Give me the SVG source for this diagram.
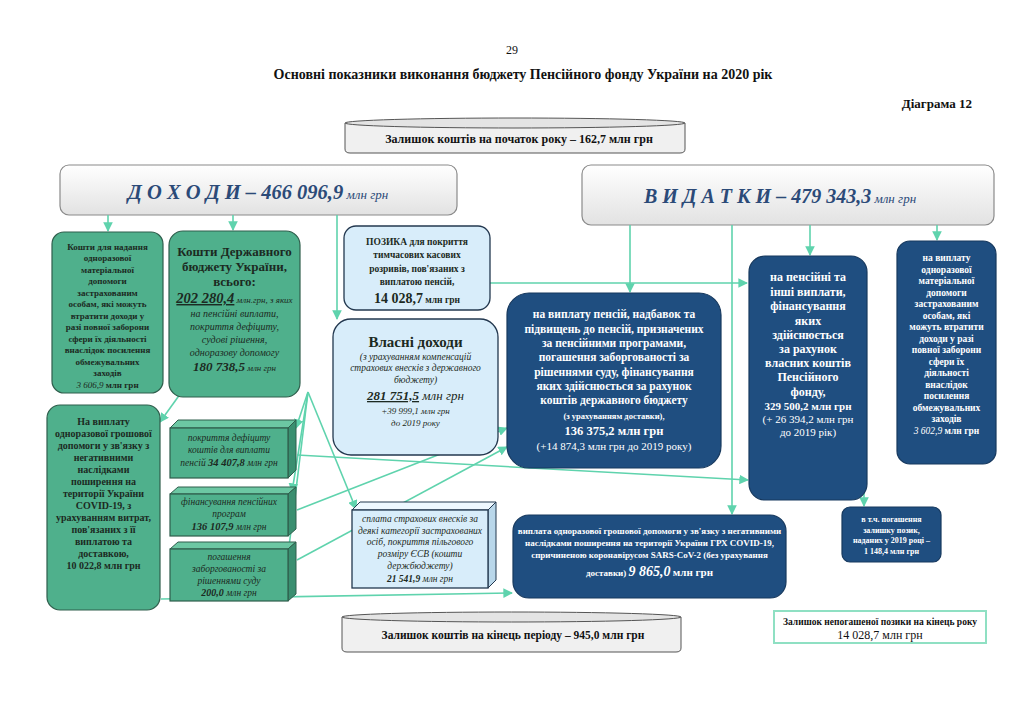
<svg xmlns="http://www.w3.org/2000/svg" width="1024" height="703" viewBox="0 0 1024 703">
<defs>
<linearGradient id="gray" x1="0" y1="0" x2="0" y2="1"><stop offset="0" stop-color="#ffffff"/><stop offset="1" stop-color="#e2e2e2"/></linearGradient>
<marker id="ar" viewBox="0 0 10 10" refX="9" refY="5" markerWidth="6" markerHeight="6" orient="auto"><path d="M0,0 L10,5 L0,10 z" fill="#5fd3ad"/></marker>
<style>
text{font-family:"Liberation Serif","Times New Roman",serif;text-anchor:middle}
.g{fill:#4fb08c;stroke:#2f5e4c;stroke-width:1.2}
.gt{fill:#6cc7a3;stroke:#2f5e4c;stroke-width:1}
.gs{fill:#3a8f70;stroke:#2f5e4c;stroke-width:1}
.lb{fill:#d8edfa;stroke:#23384f;stroke-width:1.3}
.lbt{fill:#eef8ff;stroke:#23384f;stroke-width:1}
.lbs{fill:#b9d7ea;stroke:#23384f;stroke-width:1}
.db{fill:#1f4e80;stroke:#17395e;stroke-width:1.2}
.gr{fill:url(#gray);stroke:#8a8a8a;stroke-width:1.2}
.cyl{fill:#f0f0f0;stroke:#555;stroke-width:1}
.c{fill:none;stroke:#5fd3ad;stroke-width:1.6;marker-end:url(#ar)}
.k{fill:#1c2a22;font-weight:bold}
.ki{fill:#1c2a22;font-style:italic}
.w{fill:#ffffff;font-weight:bold}
.wn{fill:#ffffff}
.h{fill:#111;font-weight:bold}
</style>
</defs>

<g id="header">
<text x="512" y="54" font-size="12" fill="#111">29</text>
<text x="523" y="79" font-size="14" class="h">Основні показники виконання бюджету Пенсійного фонду України на 2020 рік</text>
<text x="972" y="108" font-size="13" class="h" style="text-anchor:end">Діаграма 12</text>
</g>

<g id="start-balance">
<path class="cyl" d="M345,123 L345,149 Q345,153 350,153 L680,153 Q685,153 685,149 L685,123"/>
<ellipse cx="515" cy="123" rx="170" ry="5" fill="#e4e4e4" stroke="#555" stroke-width="1"/>
<text x="519" y="143" font-size="12" class="h">Залишок коштів  на початок року – 162,7 млн грн</text>
</g>

<g id="incomes">
<rect class="gr" x="60" y="165" width="397" height="50" rx="9"/>
<text x="258" y="199" font-size="20.5" fill="#2b4a78" font-style="italic" font-weight="bold">Д О Х О Д И – 466 096,9<tspan font-size="13" font-weight="normal"> млн грн</tspan></text>
</g>

<g id="expenses">
<rect class="gr" x="582" y="165" width="412" height="60" rx="9"/>
<text x="780" y="203" font-size="20" fill="#2b4a78" font-style="italic" font-weight="bold">В И Д А Т К И  –  479 343,3<tspan font-size="13" font-weight="normal"> млн грн</tspan></text>
</g>

<g id="connectors">
<line class="c" x1="108" y1="215" x2="108" y2="231"/>
<line class="c" x1="233" y1="215" x2="233" y2="230"/>
<line class="c" x1="337" y1="215" x2="337" y2="319"/>
<line class="c" x1="490" y1="283" x2="747" y2="283"/>
<line class="c" x1="630" y1="225" x2="630" y2="292"/>
<line class="c" x1="732" y1="225" x2="732" y2="514"/>
<line class="c" x1="810" y1="225" x2="810" y2="255"/>
<line class="c" x1="937" y1="225" x2="937" y2="240"/>
<line class="c" x1="864" y1="470" x2="864" y2="506"/>
<line class="c" x1="161" y1="599" x2="512" y2="593"/>
<line class="c" x1="196" y1="372" x2="160" y2="422"/>
<line class="c" x1="308" y1="392" x2="296" y2="428"/>
<line class="c" x1="308" y1="392" x2="292" y2="492"/>
<line class="c" x1="308" y1="392" x2="287" y2="563"/>
<line class="c" x1="308" y1="392" x2="356" y2="509"/>
<line class="c" x1="297" y1="510" x2="507" y2="428"/>
<line class="c" x1="297" y1="560" x2="507" y2="447"/>
<line class="c" x1="297" y1="455" x2="748" y2="480"/>
</g>

<g id="material-aid-income">
<rect class="g" x="52" y="232" width="111" height="161" rx="12"/>
<g font-size="9" class="k">
<text x="107.5" y="250">Кошти для надання</text>
<text x="107.5" y="261">одноразової</text>
<text x="107.5" y="273">матеріальної</text>
<text x="107.5" y="284">допомоги</text>
<text x="107.5" y="296">застрахованим</text>
<text x="107.5" y="307">особам, які можуть</text>
<text x="107.5" y="319">втратити доходи у</text>
<text x="107.5" y="330">разі повної заборони</text>
<text x="107.5" y="342">сфери їх діяльності</text>
<text x="107.5" y="353">внаслідок посилення</text>
<text x="107.5" y="365">обмежувальних</text>
<text x="107.5" y="376">заходів</text>
<text x="107.5" y="388"><tspan font-style="italic" font-weight="normal">3 606,9</tspan> млн грн</text>
</g>
</g>

<g id="state-budget">
<rect class="g" x="169" y="231" width="131" height="166" rx="14"/>
<text x="234.5" y="256" font-size="13" class="k">Кошти Державного</text>
<text x="234.5" y="271" font-size="13" class="k">бюджету України,</text>
<text x="234.5" y="286" font-size="13" class="k">всього:</text>
<text x="234.5" y="303" font-size="9" class="ki"><tspan font-size="14.5" font-weight="bold" text-decoration="underline">202 280,4</tspan> млн.грн, з яких</text>
<text x="234.5" y="317" font-size="10" class="ki">на пенсійні виплати,</text>
<text x="234.5" y="330" font-size="10" class="ki">покриття дефіциту,</text>
<text x="234.5" y="343" font-size="10" class="ki">судові рішення,</text>
<text x="234.5" y="356" font-size="10" class="ki">одноразову допомогу</text>
<text x="234.5" y="371" font-size="9" class="ki"><tspan font-size="13" font-weight="bold">180 738,5</tspan> млн грн</text>
</g>

<g id="covid-income">
<rect class="g" x="47" y="405" width="113" height="205" rx="13"/>
<g font-size="10" class="k">
<text x="103.5" y="425">На виплату</text>
<text x="103.5" y="437">одноразової грошової</text>
<text x="103.5" y="449">допомоги у зв'язку з</text>
<text x="103.5" y="461">негативними</text>
<text x="103.5" y="473">наслідками</text>
<text x="103.5" y="485">поширення на</text>
<text x="103.5" y="497">території України</text>
<text x="103.5" y="509">COVID-19, з</text>
<text x="103.5" y="521">урахуванням витрат,</text>
<text x="103.5" y="533">пов'язаних з її</text>
<text x="103.5" y="545">виплатою та</text>
<text x="103.5" y="557">доставкою,</text>
<text x="103.5" y="569">10 022,8 млн грн</text>
</g>
</g>

<g id="deficit">
<polygon class="gt" points="170,428 178,420 296,420 288,428"/>
<polygon class="gs" points="288,428 296,420 296,470 288,478"/>
<rect class="g" x="170" y="428" width="118" height="50"/>
<text x="229" y="441" font-size="9.5" class="ki">покриття дефіциту</text>
<text x="229" y="453" font-size="9.5" class="ki">коштів  для виплати</text>
<text x="229" y="466" font-size="9.5" class="ki">пенсій  <tspan font-weight="bold" font-size="10.5">34 407,8</tspan> млн грн</text>
</g>

<g id="pension-programs">
<polygon class="gt" points="170,494 178,487 296,487 288,494"/>
<polygon class="gs" points="288,494 296,487 296,529 288,536"/>
<rect class="g" x="170" y="494" width="118" height="42"/>
<text x="229" y="505" font-size="9.5" class="ki">фінансування пенсійних</text>
<text x="229" y="517" font-size="9.5" class="ki">програм</text>
<text x="229" y="530" font-size="9.5" class="ki"><tspan font-weight="bold" font-size="10.5">136 107,9</tspan>  млн грн</text>
</g>

<g id="court-debts">
<polygon class="gt" points="170,549 178,542 296,542 288,549"/>
<polygon class="gs" points="288,549 296,542 296,594 288,601"/>
<rect class="g" x="170" y="549" width="118" height="52"/>
<text x="229" y="560" font-size="9.5" class="ki">погашення</text>
<text x="229" y="572" font-size="9.5" class="ki">заборгованості за</text>
<text x="229" y="584" font-size="9.5" class="ki">рішеннями суду</text>
<text x="229" y="596" font-size="9.5" class="ki"><tspan font-weight="bold" font-size="10">200,0</tspan>  млн грн</text>
</g>

<g id="loan">
<rect class="lb" x="344" y="226" width="146" height="84" rx="12"/>
<g font-size="9.5" class="k">
<text x="417" y="245">ПОЗИКА   для покриття</text>
<text x="417" y="258">тимчасових   касових</text>
<text x="417" y="272">розривів,  пов'язаних  з</text>
<text x="417" y="285">виплатою  пенсій,</text>
<text x="417" y="303"><tspan font-size="14">14 028,7</tspan>   млн грн</text>
</g>
</g>

<g id="own-income">
<rect class="lb" x="333" y="319" width="165" height="136" rx="18"/>
<text x="415.5" y="347" font-size="15" class="k">Власні доходи</text>
<text x="415.5" y="360" font-size="9.5" class="ki">(з урахуванням компенсацій</text>
<text x="415.5" y="371" font-size="9.5" class="ki">страхових внесків  з державного</text>
<text x="415.5" y="383" font-size="9.5" class="ki">бюджету)</text>
<text x="415.5" y="400" font-size="13" class="ki"><tspan font-weight="bold" text-decoration="underline">281 751,5</tspan> млн грн</text>
<text x="415.5" y="414" font-size="9" class="ki">+39 999,1 млн грн</text>
<text x="415.5" y="426" font-size="9" class="ki">до 2019 року</text>
</g>

<g id="esv">
<polygon class="lbt" points="352,510 360,502 496,502 488,510"/>
<polygon class="lbs" points="488,510 496,502 496,580 488,588"/>
<rect class="lb" x="352" y="510" width="136" height="78"/>
<g font-size="9.5" class="ki">
<text x="420" y="522">сплата страхових внесків за</text>
<text x="420" y="534">деякі категорії застрахованих</text>
<text x="420" y="545">осіб,  покриття пільгового</text>
<text x="420" y="557">розміру ЄСВ (кошти</text>
<text x="420" y="569">держбюджету)</text>
<text x="420" y="582"><tspan font-weight="bold">21 541,9</tspan> млн грн</text>
</g>
</g>

<g id="state-pensions">
<rect class="db" x="507" y="293" width="214" height="175" rx="22"/>
<g font-size="11.5" class="w">
<text x="614" y="318">на виплату пенсій, надбавок та</text>
<text x="614" y="333">підвищень до пенсій, призначених</text>
<text x="614" y="347">за пенсійними програмами,</text>
<text x="614" y="361">погашення заборгованості за</text>
<text x="614" y="376">рішеннями суду, фінансування</text>
<text x="614" y="390">яких здійснюється за рахунок</text>
<text x="614" y="404">коштів державного бюджету</text>
</g>
<text x="614" y="419" font-size="8.5" class="w">(з урахуванням доставки),</text>
<text x="614" y="435" font-size="12.5" class="w">136 375,2 млн грн</text>
<text x="614" y="450" font-size="11" class="wn">(+14 874,3  млн грн до 2019 року)</text>
</g>

<g id="own-pensions">
<rect class="db" x="749" y="256" width="118" height="244" rx="16"/>
<g font-size="12" class="w">
<text x="808" y="281">на пенсійні та</text>
<text x="808" y="296">інші виплати,</text>
<text x="808" y="310">фінансування</text>
<text x="808" y="325">яких</text>
<text x="808" y="339">здійснюється</text>
<text x="808" y="353">за рахунок</text>
<text x="808" y="367">власних коштів</text>
<text x="808" y="381">Пенсійного</text>
<text x="808" y="396">фонду,</text>
</g>
<text x="808" y="410" font-size="11" class="w">329 500,2 млн грн</text>
<text x="808" y="423" font-size="11" class="wn">(+ 26 394,2 млн грн</text>
<text x="808" y="436" font-size="11" class="wn">до 2019 рік)</text>
</g>

<g id="material-aid-expense">
<rect class="db" x="897" y="241" width="99" height="223" rx="13"/>
<g font-size="9.5" class="w">
<text x="946.5" y="261">на виплату</text>
<text x="946.5" y="273">одноразової</text>
<text x="946.5" y="284">матеріальної</text>
<text x="946.5" y="296">допомоги</text>
<text x="946.5" y="307">застрахованим</text>
<text x="946.5" y="319">особам, які</text>
<text x="946.5" y="330">можуть втратити</text>
<text x="946.5" y="342">доходи у разі</text>
<text x="946.5" y="353">повної заборони</text>
<text x="946.5" y="365">сфери їх</text>
<text x="946.5" y="376">діяльності</text>
<text x="946.5" y="388">внаслідок</text>
<text x="946.5" y="399">посилення</text>
<text x="946.5" y="411">обмежувальних</text>
<text x="946.5" y="422">заходів</text>
<text x="946.5" y="434"><tspan font-style="italic" font-weight="normal">3 602,9</tspan> млн грн</text>
</g>
</g>

<g id="covid-expense">
<rect class="db" x="513" y="515" width="273" height="83" rx="16"/>
<g font-size="9" class="w">
<text x="649.5" y="534">виплата одноразової грошової допомоги у зв'язку з негативними</text>
<text x="649.5" y="546">наслідками поширення на території України ГРХ COVID-19,</text>
<text x="649.5" y="558">спричиненою коронавірусом  SARS-CoV-2 (без урахування</text>
<text x="649.5" y="576">доставки)  <tspan font-size="14" font-style="italic">9 865,0</tspan> <tspan font-size="11">млн грн</tspan></text>
</g>
</g>

<g id="loan-repayment">
<rect class="db" x="842" y="507" width="99" height="55" rx="8"/>
<g font-size="8" class="w">
<text x="891.5" y="522">в т.ч.  погашення</text>
<text x="891.5" y="533">залишку  позик,</text>
<text x="891.5" y="543">наданих  у 2019 році –</text>
<text x="891.5" y="554">1 148,4 млн грн</text>
</g>
</g>

<g id="end-balance">
<path class="cyl" d="M342,617 L342,648 Q342,652 347,652 L676,652 Q681,652 681,648 L681,617"/>
<ellipse cx="511.5" cy="617" rx="169.5" ry="5" fill="#e4e4e4" stroke="#555" stroke-width="1"/>
<text x="513" y="639" font-size="11.5" class="h">Залишок коштів на кінець періоду – 945,0  млн грн</text>
</g>

<g id="loan-balance">
<rect x="774" y="611" width="212" height="32" fill="#ffffff" stroke="#8fe0c3" stroke-width="2"/>
<text x="880" y="625" font-size="9.5" class="h">Залишок  непогашеної позики на кінець року</text>
<text x="880" y="639" font-size="12" fill="#111">14 028,7 млн грн</text>
</g>
</svg>
